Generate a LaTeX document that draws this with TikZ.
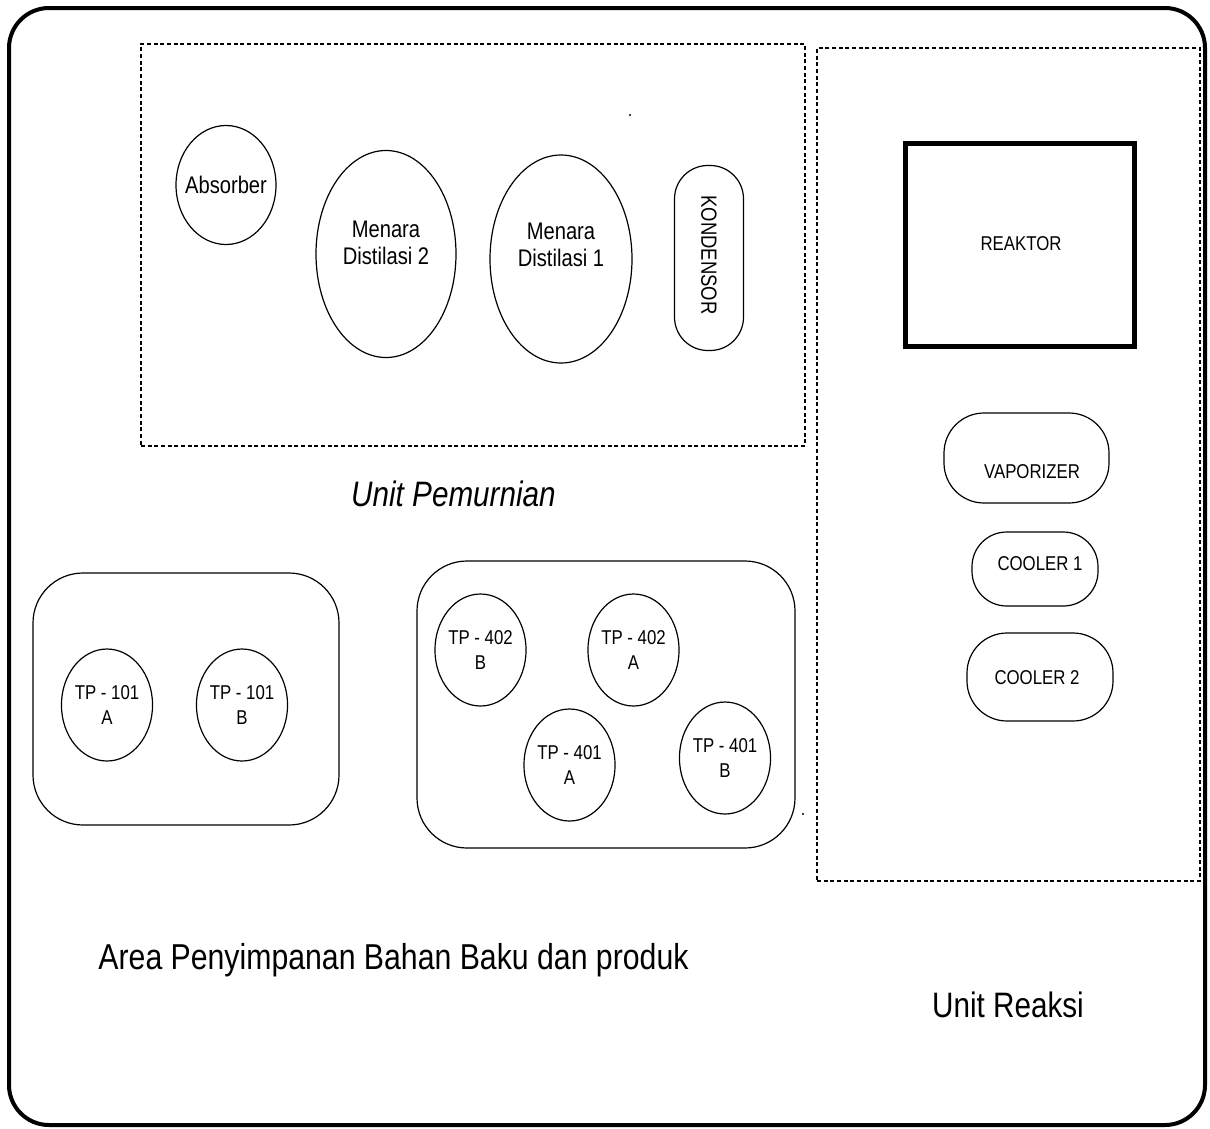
\documentclass[tikz,border=0pt]{standalone}
\usepackage{fontspec}
\setmainfont{Liberation Sans}[FakeStretch=0.84]
\usetikzlibrary{shapes.geometric}
\begin{document}
\begin{tikzpicture}[x=0.75pt,y=-0.75pt,
  frame/.style={draw, line width=3pt, rounded corners=30pt, inner sep=0pt},
  zone/.style={draw, dash pattern=on 3pt off 2pt, line width=1.5pt, inner sep=0pt},
  store/.style={draw, line width=0.9pt, rounded corners=37.5pt, inner sep=0pt},
  tank/.style={ellipse, draw, line width=0.9pt, inner sep=0pt, align=center,
    minimum width=66pt, minimum height=84pt, font=\fontsize{15}{19}\selectfont},
  tower/.style={ellipse, draw, line width=0.9pt, inner sep=0pt},
  towertext/.style={align=center, inner sep=0pt, font=\fontsize{18}{20}\selectfont},
  pill/.style={draw, line width=0.9pt, inner sep=0pt},
  lbl/.style={font=\fontsize{15}{18}\selectfont, inner sep=0pt},
  big/.style={font=\fontsize{26.5}{30}\selectfont, inner sep=0pt, anchor=base},
  dotmark/.style={circle, fill=black, inner sep=0pt, minimum size=1.6pt}
]
\useasboundingbox (0,0) rectangle (1210,1128);

% outer frame
\node[frame, minimum width=897pt, minimum height=837.75pt] (frame) at (607,566.5) {};

% zones
\node[zone, minimum width=498pt, minimum height=301.5pt] (pemurnian) at (473,245) {};
\node[zone, minimum width=287.25pt, minimum height=624.75pt] (reaksi) at (1008.5,464.5) {};

% purification unit
\node[tower, minimum width=75pt, minimum height=89.25pt] (absorber) at (226,185) {};
\node[towertext] (absorbert) at (226,185) {Absorber};
\node[tower, minimum width=105pt, minimum height=155.25pt] (md2) at (386,254) {};
\node[towertext] (md2t) at (386,243) {Menara\\Distilasi 2};
\node[tower, minimum width=106.5pt, minimum height=156pt] (md1) at (561,259) {};
\node[towertext] (md1t) at (561,245) {Menara\\Distilasi 1};
\node[pill, rounded corners=25pt, minimum width=51.75pt, minimum height=138.75pt] (kond) at (709,258) {};
\node[lbl, rotate=-90, font=\fontsize{16.5}{18}\selectfont] (kondt) at (709,255) {KONDENSOR};
\node[dotmark] (dot1) at (630,115) {};

% reaction unit
\node[draw, line width=3.75pt, minimum width=171.75pt, minimum height=152.25pt, inner sep=0pt] (reaktor) at (1020,245) {};
\node[lbl, anchor=base] (reaktort) at (1021,250) {REAKTOR};
\node[pill, rounded corners=30pt, minimum width=123.75pt, minimum height=67.5pt] (vap) at (1026.5,458) {};
\node[lbl] (vapt) at (1032,472) {VAPORIZER};
\node[pill, rounded corners=26pt, minimum width=94.5pt, minimum height=55.5pt] (cool1) at (1035,569) {};
\node[lbl] (cool1t) at (1040,564) {COOLER 1};
\node[pill, rounded corners=30pt, minimum width=109.5pt, minimum height=66pt] (cool2) at (1040,677) {};
\node[lbl] (cool2t) at (1037,678) {COOLER 2};

% storage
\node[store, minimum width=229.5pt, minimum height=189pt] (store1) at (186,699) {};
\node[tank] (tp101a) at (107,705) {TP - 101\\A};
\node[tank] (tp101b) at (242,705) {TP - 101\\B};

\node[store, minimum width=283.5pt, minimum height=215.25pt] (store2) at (606,704.5) {};
\node[tank] (tp402b) at (480.5,650) {TP - 402\\B};
\node[tank] (tp402a) at (633.5,650) {TP - 402\\A};
\node[tank] (tp401a) at (569.5,765) {TP - 401\\A};
\node[tank] (tp401b) at (725,758) {TP - 401\\B};
\node[dotmark] (dot2) at (803,814) {};

% labels
\node[big, font=\fontsize{26.5}{30}\selectfont\itshape] (upem) at (453.5,506) {Unit Pemurnian};
\node[big, font=\fontsize{27}{30}\selectfont] (area) at (393.5,969) {Area Penyimpanan Bahan Baku dan produk};
\node[big] (ureak) at (1008,1017) {Unit Reaksi};
\end{tikzpicture}
\end{document}
